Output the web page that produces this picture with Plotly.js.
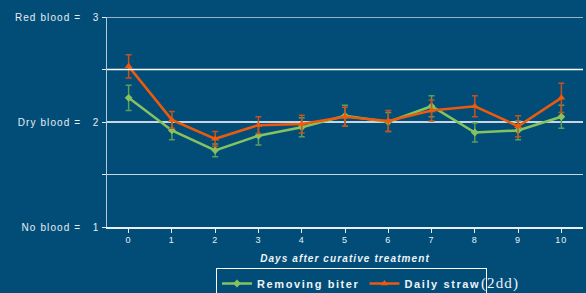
<!DOCTYPE html>
<html>
<head>
<meta charset="utf-8">
<script src="https://cdn.plot.ly/plotly-3.0.1.min.js"></script>
<style>
html,body{margin:0;padding:0;background:#024d78;}
#chart{width:586px;height:293px;}
svg text{letter-spacing:1.1px;}
svg text.legendtext{letter-spacing:1.6px;}
</style>
</head>
<body>
<div id="chart"></div>
<script>
const days = [0,1,2,3,4,5,6,7,8,9,10];
const xTickLabels = ['0','1','2','3','4','5','6','7','8','9','10'];
const yTickVals = [1,1.5,2,2.5,3];
const yTickText = ['No blood =\u00a0\u00a0\u00a01','','Dry blood =\u00a0\u00a0\u00a02','','Red blood =\u00a0\u00a0\u00a03'];

const removingName = 'Removing biter';
const removingVals = [2.23,1.92,1.73,1.87,1.95,2.06,2.00,2.15,1.90,1.92,2.05];
const removingErr  = [0.12,0.09,0.06,0.09,0.09,0.10,0.09,0.10,0.09,0.09,0.11];

const dailyName = 'Daily straw';
const dailySuffix = '(2dd)';
const dailyVals = [2.53,2.02,1.84,1.97,1.98,2.05,2.01,2.11,2.15,1.96,2.23];
const dailyErr  = [0.11,0.08,0.07,0.08,0.085,0.09,0.10,0.10,0.10,0.10,0.14];

const traces = [
  {x: days, y: removingVals, name: removingName, type: 'scatter', mode: 'lines+markers',
   line: {color: '#86c35e', width: 2.5}, marker: {symbol: 'diamond', size: 6, color: '#86c35e'},
   error_y: {type: 'data', array: removingErr, visible: true, color: '#5c9c5c', thickness: 1.5, width: 3}},
  {x: days, y: dailyVals, name: dailyName, type: 'scatter', mode: 'lines+markers',
   line: {color: '#ec5a0c', width: 2.5}, marker: {symbol: 'triangle-up', size: 7, color: '#ec5a0c'},
   error_y: {type: 'data', array: dailyErr, visible: true, color: '#c9521c', thickness: 1.5, width: 3}}
];

const layout = {
  width: 586, height: 293,
  paper_bgcolor: '#024d78', plot_bgcolor: '#024d78',
  margin: {l: 107, r: 3, t: 17, b: 66},
  font: {family: 'Liberation Sans, Arial, sans-serif', color: '#e6edf3', size: 10},
  showlegend: true,
  legend: {orientation: 'h', xref: 'container', yref: 'container', x: 216 / 586, xanchor: 'left', y: 25 / 293, yanchor: 'top',
    bordercolor: '#ffffff', borderwidth: 1, bgcolor: 'rgba(0,0,0,0)',
    font: {size: 11, weight: 'bold', color: '#eef3f7'}, itemwidth: 30, tracegroupgap: 0,
    traceorder: 'normal'},
  xaxis: {range: [-0.5, 10.5], tickvals: days, ticktext: xTickLabels, showgrid: false, zeroline: false,
    showline: true, linecolor: '#e8eef4', linewidth: 1.5, ticks: 'outside', ticklen: 4, tickcolor: '#e8eef4',
    tickfont: {size: 9, color: '#e6edf3'},
    title: {text: 'Days after curative treatment', font: {size: 10, weight: 'bold', style: 'italic', color: '#eef3f7'}, standoff: 10}},
  yaxis: {range: [1, 3], tickvals: yTickVals, ticktext: yTickText, showgrid: true, gridcolor: '#c9d6e2', gridwidth: 1.5,
    zeroline: false, showline: true, linecolor: '#b9c8d6', linewidth: 1.5, ticks: 'outside', ticklen: 4,
    tickcolor: '#e8eef4', tickfont: {size: 10, color: '#e6edf3'}},
  shapes: [
    {type: 'line', xref: 'paper', yref: 'y', x0: 0, x1: 1, y0: 2.5, y1: 2.5, line: {color: '#ffffff', width: 1.5}},
    {type: 'line', xref: 'paper', yref: 'y', x0: 0, x1: 1, y0: 3, y1: 3, line: {color: '#c9d6e2', width: 1.5}}
  ],
  annotations: [
    {text: dailySuffix, xref: 'paper', yref: 'paper', x: (479 - 107) / 476, y: (227 - 273) / 210, xanchor: 'left', yanchor: 'top',
     showarrow: false, font: {family: 'Liberation Serif, Times New Roman, serif', size: 15, color: '#eef3f7'}}
  ]
};

Plotly.newPlot('chart', traces, layout, {displayModeBar: false, staticPlot: true});
</script>
</body>
</html>
